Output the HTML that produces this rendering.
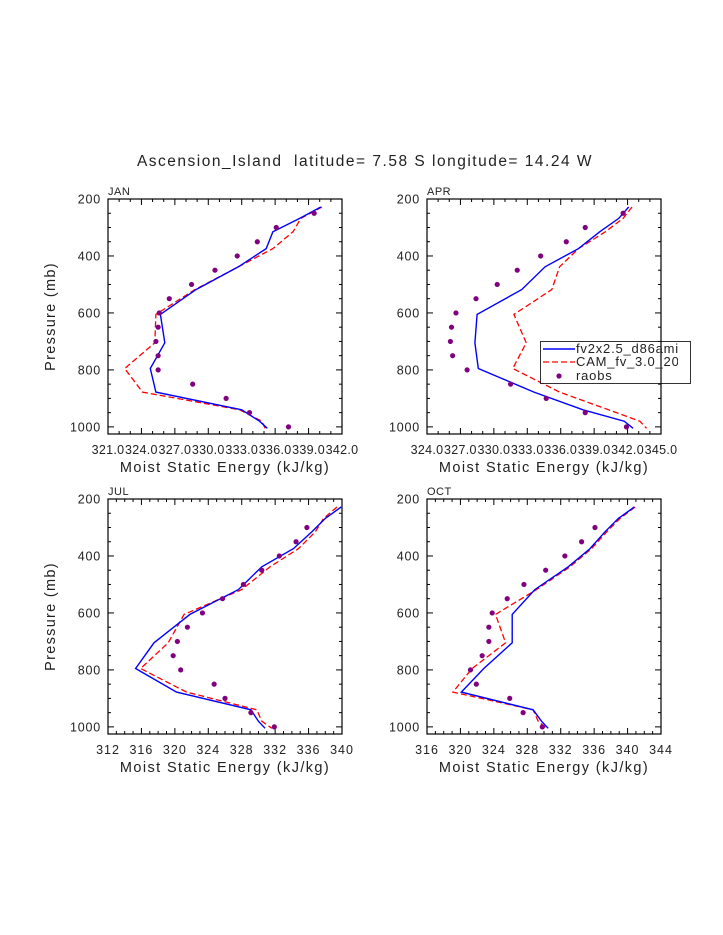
<!DOCTYPE html>
<html><head><meta charset="utf-8"><style>
body{margin:0;background:#fff}
svg{display:block}
text{font-family:"Liberation Sans",sans-serif;fill:#222}
</style></head><body>
<svg id="fig" width="723" height="935" viewBox="0 0 723 935" xmlns="http://www.w3.org/2000/svg">
<rect width="723" height="935" fill="#fff"/>
<text x="365" y="166" text-anchor="middle" font-size="15.5" letter-spacing="1.5" xml:space="preserve">Ascension_Island  latitude= 7.58 S longitude= 14.24 W</text>
</svg>
<script>
const modelP=[228,268,315,374,438,518,605,705,795,878,940,980,1005];
const obsP=[250,300,350,400,450,500,550,600,650,700,750,800,850,900,950,1000];
const janBlue=[340.1,338.2,335.8,335.2,332.7,328.9,325.7,326.1,324.8,325.3,333.0,334.6,335.3];
const janRed=[340.2,338.3,337.6,335.8,332.7,328.8,325.3,325.2,322.5,324.1,332.8,334.8,335.1];
const janObs=[339.5,336.1,334.4,332.6,330.6,328.5,326.5,325.6,325.5,325.3,325.5,325.5,328.6,331.6,333.7,337.2];
const aprBlue=[342.1,341.2,339.5,337.6,334.6,332.5,328.5,328.3,328.6,333.6,338.0,341.7,342.5];
const aprRed=[342.4,341.6,340.0,337.6,335.9,335.2,331.8,332.9,331.7,335.9,340.3,343.1,343.7];
const aprObs=[341.6,338.2,336.5,334.2,332.1,330.3,328.4,326.6,326.2,326.1,326.3,327.6,331.5,334.7,338.2,341.9];
const julBlue=[339.9,338.0,336.4,334.2,330.4,327.6,321.8,317.5,315.3,320.2,329.1,330.0,330.8];
const julRed=[339.4,337.8,336.8,334.8,331.4,328.0,321.1,319.2,315.9,321.4,329.8,330.4,331.6];
const julObs=[null,335.8,334.5,332.5,330.4,328.2,325.7,323.3,321.5,320.3,319.8,320.7,324.7,326.0,329.1,331.9];
const octBlue=[340.8,338.9,337.3,335.5,332.9,328.9,326.2,326.2,322.8,320.1,328.7,329.7,330.5];
const octRed=[340.9,339.1,337.5,335.7,333.1,329.1,324.2,325.4,321.4,319.1,328.7,329.3,330.3];
const octObs=[null,336.1,334.5,332.5,330.2,327.6,325.6,323.8,323.4,323.4,322.6,321.2,321.9,325.9,327.5,329.8];
const janTicks=["321.0","324.0","327.0","330.0","333.0","336.0","339.0","342.0"];
const aprTicks=["324.0","327.0","330.0","333.0","336.0","339.0","342.0","345.0"];
const julTicks=["312","316","320","324","328","332","336","340"];
const octTicks=["316","320","324","328","332","336","340","344"];
const pTicks=[200,400,600,800,1000];

const NS="http://www.w3.org/2000/svg";
const svg=document.getElementById('fig');
function mk(tag,attrs,parent){const e=document.createElementNS(NS,tag);for(const k in attrs)e.setAttribute(k,attrs[k]);(parent||svg).appendChild(e);return e;}

function panel(name,x0,y0,ticks,minorPer,blue,red,obs,legend,ytitle){
  const W=234,H=235,pmin=200,pmax=1025;
  const xmin=parseFloat(ticks[0]),xmax=parseFloat(ticks[ticks.length-1]);
  const g=mk('g',{});
  
  
  const X=v=>x0+(v-xmin)/(xmax-xmin)*W;
  const Y=p=>y0+(p-pmin)/(pmax-pmin)*H;
  for(let p=200;p<=1000;p+=50){
    const maj=p%200===0, L=maj?6:3, y=Y(p);
    mk('line',{x1:x0,y1:y,x2:x0+L,y2:y,stroke:'#000','stroke-width':1},g);
    mk('line',{x1:x0+W,y1:y,x2:x0+W-L,y2:y,stroke:'#000','stroke-width':1},g);
  }
  pTicks.forEach(p=>{const t=mk('text',{x:x0-7,y:Y(p)+4.5,'text-anchor':'end','font-size':12.5,'letter-spacing':0.8},g);t.textContent=p;
    
    });
  const step=(xmax-xmin)/(ticks.length-1), ms=step/minorPer;
  for(let i=0;i<=(ticks.length-1)*minorPer;i++){
    const v=xmin+i*ms, maj=i%minorPer===0, L=maj?6:3, x=X(v);
    mk('line',{x1:x,y1:y0+H,x2:x,y2:y0+H-L,stroke:'#000','stroke-width':1},g);
    mk('line',{x1:x,y1:y0,x2:x,y2:y0+L,stroke:'#000','stroke-width':1},g);
  }
  const ls=ticks[0].length>3?0.3:1;
  ticks.forEach(s=>{const t=mk('text',{x:X(parseFloat(s)),y:y0+H+20,'text-anchor':'middle','font-size':12.5,'letter-spacing':ls},g);t.textContent=s;
    
    });
  const xt=mk('text',{x:x0+W/2,y:y0+H+38,'text-anchor':'middle','font-size':14.5,'letter-spacing':'1.4'},g);
  xt.textContent='Moist Static Energy (kJ/kg)';
  
  
  if(ytitle){
    const yt=mk('text',{transform:`translate(${x0-53},${y0+H/2}) rotate(-90)`,'text-anchor':'middle','font-size':14.5,'letter-spacing':'1.3'},g);
    yt.textContent='Pressure (mb)';
    
    
  }
  const lab=mk('text',{x:x0,y:y0-4,'font-size':11,'letter-spacing':0.5},g);lab.textContent=name;
  
  
  const pts=arr=>arr.map((v,i)=>X(v).toFixed(1)+','+Y(modelP[i]).toFixed(1)).join(' ');
  const rl=mk('polyline',{points:pts(red),fill:'none',stroke:'#f00','stroke-width':1.3,'stroke-dasharray':'6,3'},g);
  
  
  const bl=mk('polyline',{points:pts(blue),fill:'none',stroke:'#00f','stroke-width':1.4},g);
  
  
  obs.forEach((v,i)=>{if(v==null)return;const c=mk('circle',{cx:X(v),cy:Y(obsP[i]),r:2.6,fill:'#800080'},g);
    
    });
  mk('rect',{x:x0,y:y0,width:W,height:H,fill:'none',stroke:'#000','stroke-width':1.2},g);
  if(legend){
    const lg=mk('g',{},g);
    
    
    const cpath=mk('clipPath',{id:'lc'},lg);
    mk('rect',{x:540,y:340,width:138,height:45},cpath);
    mk('rect',{x:540.5,y:341.5,width:150,height:42,fill:'#fff',stroke:'#000','stroke-width':0.8},lg);
    mk('line',{x1:x0+W,y1:341,x2:x0+W,y2:384,stroke:'#000','stroke-width':1.2},lg);
    const inner=mk('g',{'clip-path':'url(#lc)'},lg);
    mk('line',{x1:543,y1:349,x2:575,y2:349,stroke:'#00f','stroke-width':1.4},inner);
    mk('line',{x1:543,y1:362,x2:575,y2:362,stroke:'#f00','stroke-width':1.3,'stroke-dasharray':'6,3'},inner);
    mk('circle',{cx:559,cy:376,r:2.6,fill:'#800080'},inner);
    [['fv2x2.5_d86ami',353,'legend-entry-fv2x2-5'],['CAM_fv_3.0_2005',366,'legend-entry-cam-fv'],['raobs',380,'legend-entry-raobs']].forEach(a=>{
      const t=mk('text',{x:576,y:a[1],'font-size':13,'letter-spacing':0.8},inner);t.textContent=a[0];
      
      });
  }
}
panel('JAN',108,199,janTicks,3,janBlue,janRed,janObs,false,true);
panel('APR',427,199,aprTicks,3,aprBlue,aprRed,aprObs,true,false);
panel('JUL',108,499,julTicks,4,julBlue,julRed,julObs,false,true);
panel('OCT',427,499,octTicks,4,octBlue,octRed,octObs,false,false);
</script>
</body></html>
